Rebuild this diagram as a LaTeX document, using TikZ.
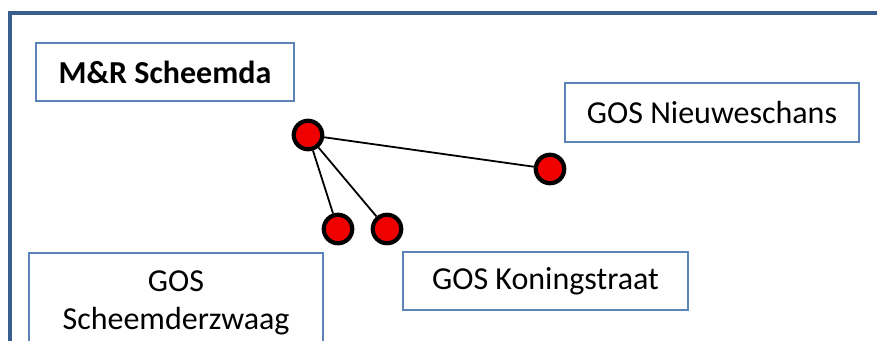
\documentclass[tikz,border=0pt]{standalone}
\usepackage{fontspec}
\setmainfont{Carlito}
\definecolor{framec}{HTML}{3A5F8E}
\definecolor{boxc}{HTML}{5B84B8}
\definecolor{dotred}{HTML}{F00000}
\begin{document}
\begin{tikzpicture}[x=1pt,y=-1pt,
  labelbox/.style={draw=boxc,line width=1.3pt,fill=white,inner sep=0pt,font=\fontsize{32}{38}\selectfont,align=center},
  stop/.style={circle,draw=black,line width=4.2pt,fill=dotred,minimum size=28.5pt,inner sep=0pt},
  link/.style={black,line width=1.8pt}]
\useasboundingbox (0,0) rectangle (877,340);
\clip (0,0) rectangle (877,340);
\fill[white] (0,0) rectangle (877,340);
\draw[framec,line width=4pt] (10,380) -- (10,13) -- (890,13);
\node[labelbox,minimum width=258pt,minimum height=58pt] (mr) at (165,72) {\textbf{M\&R Scheemda}};
\node[labelbox,minimum width=294pt,minimum height=59pt] (nw) at (712,112.5) {GOS Nieuweschans};
\node[labelbox,minimum width=285pt,minimum height=58pt] (ks) at (545.5,281) {GOS Koningstraat};
\draw[boxc,line width=1.3pt,fill=white] (29,360) -- (29,253) -- (323,253) -- (323,360);
\node[font=\fontsize{32}{38}\selectfont,align=center] (sz) at (176,302.5) {GOS\\Scheemderzwaag};
\node[stop] (a) at (308,135) {};
\node[stop] (b) at (550,169) {};
\node[stop] (c) at (338,229) {};
\node[stop] (d) at (387,229) {};
\draw[link] (a) -- (b);
\draw[link] (a) -- (c);
\draw[link] (a) -- (d);
\end{tikzpicture}
\end{document}
